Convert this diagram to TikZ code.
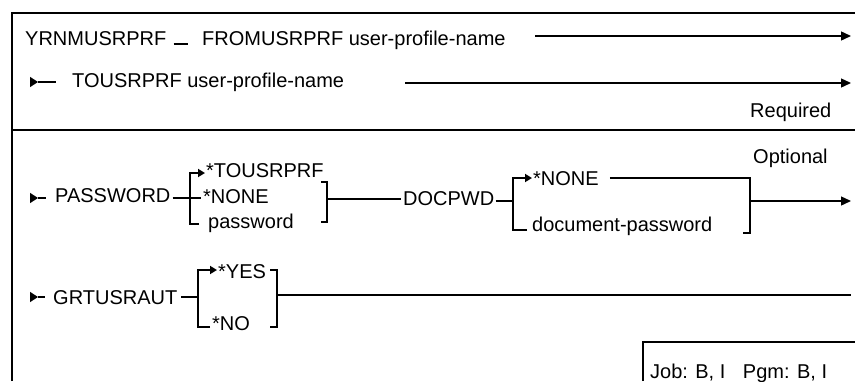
\documentclass[tikz,border=0pt]{standalone}
\usepackage{fontspec}
\setmainfont{Liberation Sans}
\usepackage{tikz}
\usetikzlibrary{arrows.meta}
\tikzset{
  lbl/.style={inner sep=0pt,anchor=base west,font=\fontsize{20}{23}\selectfont},
  rail/.style={line width=1.4pt},
  arr/.style={rail,-{Triangle[length=10pt,width=9pt]}},
  startarr/.style={rail,-{Triangle[length=8pt,width=10pt]}},
  brk/.style={line width=2.6pt},
  brkarr/.style={brk,-{Triangle[length=7pt,width=8pt]}},
  frame/.style={line width=2.2pt},
}

\begin{document}
\begin{tikzpicture}[x=1pt,y=-1pt]
\useasboundingbox (0,0) rectangle (855,381);
% outer frame and separator
\draw[frame] (12,381) -- (12,13) -- (855,13);
\draw[line width=1.4pt] (12,130) -- (855,130);

% required parameters
\node[lbl] (cmd) at (25,45) {YRNMUSRPRF};
\node[lbl] (from) at (202,45) {FROMUSRPRF user-profile-name};
\coordinate (r1a) at (535,36);
\coordinate (r1b) at (851,36);
\draw[rail] ([xshift=7pt,yshift=1pt]cmd.base east) -- ([xshift=-14pt,yshift=1pt]from.base west);
\draw[arr] (r1a) -- (r1b);

\coordinate (s2) at (30,82);
\node[lbl] (to) at (72,87) {TOUSRPRF user-profile-name};
\draw[startarr] (s2) -- ++(8,0);
\draw[rail] ([xshift=8pt]s2) -- ([xshift=-16pt,yshift=5pt]to.base west);
\coordinate (r2a) at (405,83);
\coordinate (r2b) at (851,83);
\draw[arr] (r2a) -- (r2b);
\node[lbl] (req) at (750,117) {Required};

% optional parameters
\node[lbl] (opt) at (753,163) {Optional};

\coordinate (s3) at (30,198);
\node[lbl] (pw) at (55,202) {PASSWORD};
\draw[startarr] (s3) -- ++(8,0);
\draw[rail] ([xshift=8pt]s3) -- ++(8,0);
\node[lbl] (pw1) at (206,177) {*TOUSRPRF};
\node[lbl] (pw2) at (203,203) {*NONE};
\node[lbl] (pw3) at (208,228) {password};
\draw[rail] ([xshift=2pt,yshift=4pt]pw.base east) -- ([xshift=-2pt,yshift=5pt]pw2.base west);
\draw[brkarr] (199,224) -- (190,224) -- (190,173) -- (205,173);
\draw[brk] (321,182) -- (327,182) -- (327,222) -- (321,222);
\node[lbl] (doc) at (403,205) {DOCPWD};
\draw[rail] (327,199) -- ([xshift=-2pt,yshift=6pt]doc.base west);
\draw[rail] ([xshift=1pt,yshift=4pt]doc.base east) -- (513,201);
\node[lbl] (dn) at (533,185) {*NONE};
\node[lbl] (dp) at (532,231) {document-password};
\draw[brkarr] (527,230) -- (513,230) -- (513,178) -- (532,178);
\draw[brk] ([xshift=11pt,yshift=7pt]dn.base east) -- (750,178) -- (750,233) -- (743,233);
\coordinate (r3b) at (851,201);
\draw[arr] (750,201) -- (r3b);

\coordinate (s4) at (30,297);
\node[lbl] (gr) at (53,304) {GRTUSRAUT};
\draw[startarr] (s4) -- ++(8,0);
\draw[rail] ([xshift=8pt]s4) -- ++(7,0);
\node[lbl] (yes) at (218,278) {*YES};
\node[lbl] (no) at (212,330) {*NO};
\draw[rail] ([xshift=4pt,yshift=7pt]gr.base east) -- (198,297);
\draw[brkarr] (210,327) -- (198,327) -- (198,270) -- (217,270);
\draw[brk] (270,270) -- (277,270) -- (277,327) -- (270,327);
\coordinate (r4b) at (851,295);
\draw[rail] (277,295) -- (r4b);

% attributes box
\draw[frame] (643,381) -- (643,342) -- (855,342);
\node[lbl] (job) at (650,378) {Job: B, I\hspace{12pt} Pgm: B, I};
\end{tikzpicture}
\end{document}
